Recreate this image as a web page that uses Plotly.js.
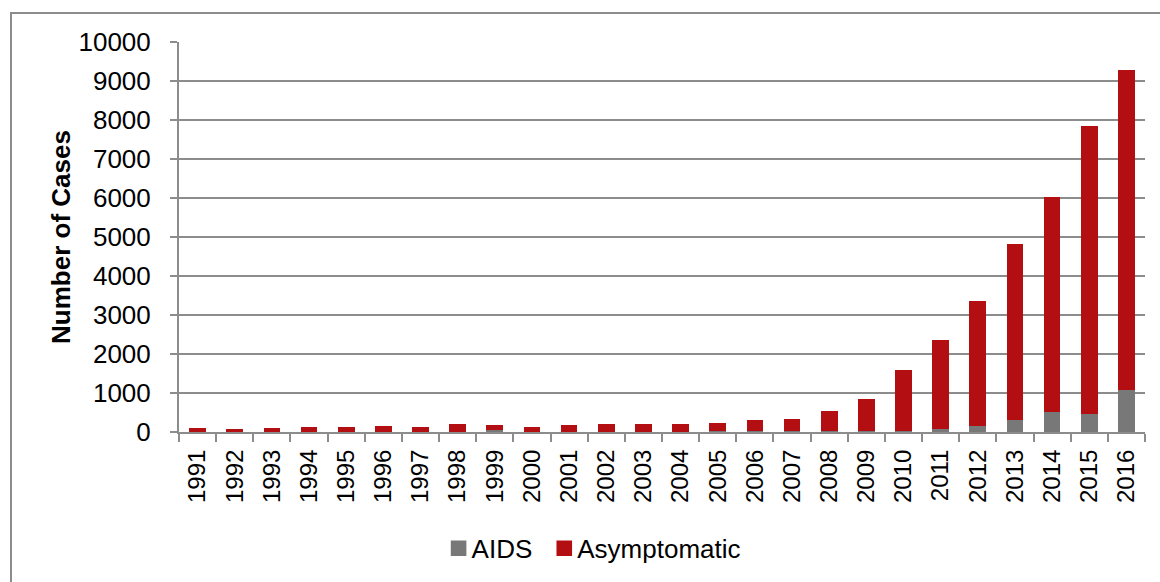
<!DOCTYPE html>
<html>
<head>
<meta charset="utf-8">
<script src="https://cdn.plot.ly/plotly-3.0.1.min.js"></script>
<style>
  html, body { margin: 0; padding: 0; background: #fff; }
  #wrap { position: relative; width: 1160px; height: 582px; }
  #chart { position: absolute; left: 0; top: 0; width: 1160px; height: 582px; }
  #frame { position: absolute; left: 10px; top: 12px; width: 1160px; height: 600px;
           border-left: 2px solid #8c8c8c; border-top: 2px solid #8c8c8c; pointer-events: none; }
</style>
</head>
<body>
<div id="wrap">
  <div id="chart"></div>
  <div id="frame"></div>
</div>
<script>
const years = ["1991","1992","1993","1994","1995","1996","1997","1998","1999","2000",
               "2001","2002","2003","2004","2005","2006","2007","2008","2009","2010",
               "2011","2012","2013","2014","2015","2016"];
const aids = [10,5,10,10,10,10,10,10,40,10,10,10,10,10,15,15,15,15,25,20,65,145,300,505,465,1075];
const asymptomatic = [90,80,100,125,110,155,125,185,130,120,175,185,200,200,205,300,330,520,820,1580,2290,3205,4530,5525,7385,8215];
const yTicks = [0,1000,2000,3000,4000,5000,6000,7000,8000,9000,10000];

const font = "Liberation Sans, Arial, sans-serif";
const grey = "#8c8c8c";

const traces = [
  { type: "bar", name: "AIDS", x: years, y: aids,
    marker: { color: "#787878" }, hoverinfo: "skip" },
  { type: "bar", name: "Asymptomatic", x: years, y: asymptomatic,
    marker: { color: "#b30f12" }, hoverinfo: "skip" }
];

const layout = {
  width: 1160, height: 582,
  margin: { l: 179, r: 15, t: 42, b: 148.5, pad: 0 },
  paper_bgcolor: "rgba(0,0,0,0)", plot_bgcolor: "#fff",
  barmode: "stack", bargap: 0.55,
  font: { family: font, color: "#000" },
  showlegend: true,
  legend: { orientation: "h", x: 0.424, xanchor: "center", y: -0.295, yanchor: "middle",
            font: { size: 26, family: font }, traceorder: "normal",
            itemwidth: 30, tracegroupgap: 0 },
  xaxis: {
    type: "category", tickangle: -90, tickson: "boundaries",
    ticks: "outside", ticklen: 8, tickwidth: 2, tickcolor: grey,
    showline: true, linecolor: grey, linewidth: 2,
    showgrid: false, tickfont: { size: 24, family: font },
    ticklabelstandoff: 6, automargin: false
  },
  yaxis: {
    range: [0, 10000], tickvals: yTicks, ticktext: yTicks.map(String),
    ticks: "outside", ticklen: 7, tickwidth: 2, tickcolor: grey,
    showline: true, linecolor: grey, linewidth: 2,
    showgrid: true, gridcolor: grey, gridwidth: 2, zeroline: false,
    tickfont: { size: 26, family: font }, ticklabelstandoff: 14,
    title: { text: "<b>Number of Cases</b>", font: { size: 26, family: font }, standoff: 0 },
    automargin: false
  }
};

Plotly.newPlot("chart", traces, layout, { displayModeBar: false, staticPlot: true }).then(function () {
  // enlarge legend swatches and bring them nearer to their labels, as in the reference
  document.querySelectorAll("#chart .legendpoints path").forEach(function (p) {
    const t = p.getAttribute("transform") || "";
    p.setAttribute("transform", t + " translate(7,0) scale(1.3)");
  });
});
</script>
</body>
</html>
